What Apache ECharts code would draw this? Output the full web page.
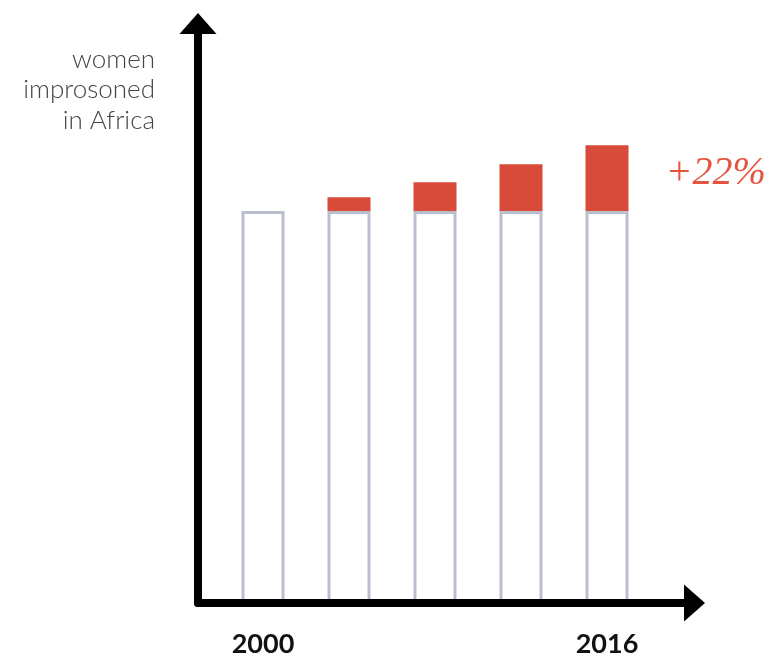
<!DOCTYPE html>
<html>
<head>
<meta charset="utf-8">
<script src="https://cdn.jsdelivr.net/npm/echarts@6/dist/echarts.min.js"></script>
<style>
html,body{margin:0;padding:0;background:#fff;}
#chart{width:769px;height:658px;}
</style>
</head>
<body>
<div id="chart"></div>
<script>
// ---- data ----
const years = ['2000', '2004', '2008', '2012', '2016'];
const baseValues = [100, 100, 100, 100, 100];
const increaseValues = [null, 3.5, 7.3, 11.9, 16.7];
const tickYears = ['2000', '2016'];
const axisTitle = 'women\nimprosoned\nin Africa';
const changeLabel = '+22%';

const incData = increaseValues.map((v, i) => {
  const item = { value: v };
  if (i === increaseValues.length - 1) {
    item.label = {
      show: true,
      position: 'right',
      distance: 37,
      offset: [0, -5],
      formatter: changeLabel,
      fontFamily: 'Liberation Serif',
      fontStyle: 'italic',
      fontSize: 40,
      color: '#e4553f'
    };
  }
  return item;
});

const arrowLine = {
  show: true,
  onZero: false,
  symbol: ['none', 'triangle'],
  symbolSize: [37, 21],
  lineStyle: { color: '#000000', width: 8, cap: 'round' }
};

const chart = echarts.init(document.getElementById('chart'), null, { renderer: 'canvas' });
chart.setOption({
  animation: false,
  backgroundColor: '#ffffff',
  title: {
    text: axisTitle,
    left: 155,
    top: 44,
    padding: 0,
    textAlign: 'right',
    textStyle: {
      fontFamily: 'Lato',
      fontWeight: 300,
      fontSize: 26,
      lineHeight: 30.5,
      color: '#444444'
    }
  },
  grid: [
    { left: 220, right: 119, top: 23.5, bottom: 52 },
    { left: 198, right: 74.5, top: 23.5, bottom: 55 }
  ],
  xAxis: [
    {
      type: 'category',
      gridIndex: 0,
      data: years,
      boundaryGap: true,
      axisLine: { show: false },
      axisTick: { show: false },
      axisLabel: {
        interval: (i, v) => tickYears.indexOf(v) !== -1,
        margin: 27,
        fontFamily: 'Lato',
        fontWeight: 'bold',
        fontSize: 27,
        color: '#111111'
      }
    },
    {
      type: 'value',
      gridIndex: 1,
      min: 0,
      max: 1,
      z: 10,
      splitLine: { show: false },
      axisTick: { show: false },
      axisLabel: { show: false },
      axisLine: arrowLine
    }
  ],
  yAxis: [
    {
      type: 'value',
      gridIndex: 0,
      min: 0,
      max: 147.7,
      show: false
    },
    {
      type: 'value',
      gridIndex: 1,
      min: 0,
      max: 1,
      z: 10,
      splitLine: { show: false },
      axisTick: { show: false },
      axisLabel: { show: false },
      axisLine: arrowLine
    }
  ],
  series: [
    {
      type: 'bar',
      xAxisIndex: 0,
      yAxisIndex: 0,
      stack: 'total',
      barWidth: 43,
      data: baseValues,
      itemStyle: { color: 'rgba(255,255,255,0)', borderColor: '#bbbecd', borderWidth: 3 },
      z: 1
    },
    {
      type: 'bar',
      xAxisIndex: 0,
      yAxisIndex: 0,
      stack: 'total',
      barWidth: 43,
      data: incData,
      itemStyle: { color: '#d84a3a', borderColor: '#d84a3a', borderWidth: 3 },
      z: 2
    }
  ]
});
</script>
</body>
</html>
